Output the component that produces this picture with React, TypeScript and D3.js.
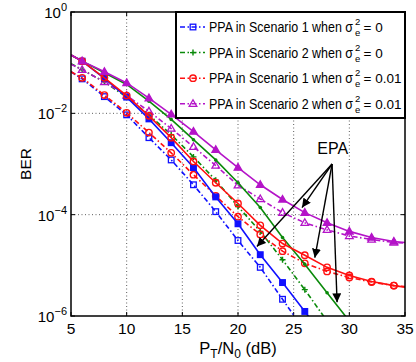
import { useEffect, useRef } from "react";
import * as d3 from "d3";

// SNR points (dB); markers are only drawn on the even ones
const snr = [5, 6, 8, 10, 12, 14, 16, 18, 20, 22, 24, 26, 28, 30, 32, 34, 35];

// log10(BER), null = below the axes
const ppaS1Zero = [-1.18, -1.32, -1.67, -2.03, -2.48, -2.92, -3.41, -3.94, -4.51, -5.04, -5.67, -6.3, null, null, null, null, null];
const ppaS2Zero = [-1.02, -1.14, -1.38, -1.68, -2.03, -2.42, -2.86, -3.32, -3.84, -4.33, -4.89, -5.48, -6.1, null, null, null, null];
const ppaS1Err = [-1.18, -1.3, -1.64, -1.99, -2.38, -2.78, -3.21, -3.63, -4.04, -4.39, -4.72, -4.96, -5.12, -5.24, -5.33, -5.4, -5.42];
const ppaS2Err = [-1.03, -1.14, -1.38, -1.65, -1.96, -2.3, -2.66, -3.03, -3.42, -3.69, -3.96, -4.16, -4.3, -4.42, -4.49, -4.55, -4.56];
const epaS1Zero = [-0.85, -0.97, -1.31, -1.68, -2.11, -2.58, -3.07, -3.65, -4.18, -4.79, -5.34, -5.91, -6.5, null, null, null, null];
const epaS2Zero = [-0.85, -0.97, -1.2, -1.43, -1.76, -2.12, -2.52, -2.92, -3.37, -3.86, -4.45, -4.98, -5.54, -6.1, null, null, null];
const epaS1Err = [-0.85, -0.97, -1.3, -1.65, -2.05, -2.48, -2.95, -3.37, -3.78, -4.21, -4.57, -4.8, -5.04, -5.2, -5.32, -5.4, -5.43];
const epaS2Err = [-0.85, -0.97, -1.18, -1.4, -1.7, -2.02, -2.36, -2.72, -3.07, -3.41, -3.7, -3.96, -4.16, -4.33, -4.45, -4.53, -4.55];

const legendLabels = [
  ["PPA in Scenario 1 when \u03c3", "= 0"],
  ["PPA in Scenario 2 when \u03c3", "= 0"],
  ["PPA in Scenario 1 when \u03c3", "= 0.01"],
  ["PPA in Scenario 2 when \u03c3", "= 0.01"],
];

const xTicks = [5, 10, 15, 20, 25, 30, 35];
const yTickExps = [0, -2, -4, -6];

// EPA annotation: label, arrow start, arrow tips (dB, log10 BER)
const epaLabel = { x: 28.5, y: -2.8 };
const epaFrom = { x: 28.45, y: -3.0 };
const epaTips = [
  { x: 21.7, y: -4.63 },
  { x: 25.75, y: -3.86 },
  { x: 26.9, y: -4.85 },
  { x: 28.9, y: -5.73 },
];

const BLUE = "#1010ff";
const GREEN = "#0a8a0a";
const RED = "#ff1010";
const MAG = "#b414c8";
const FONT = "Liberation Sans, Arial, sans-serif";

const series = [
  { vals: ppaS1Zero, color: BLUE, dash: "5,2.5,1.5,2.5", marker: "square", filled: false },
  { vals: ppaS2Zero, color: GREEN, dash: "5,2.5,1.5,2.5", marker: "plus", filled: false },
  { vals: ppaS1Err, color: RED, dash: "5,2.5,1.5,2.5", marker: "circle", filled: false },
  { vals: ppaS2Err, color: MAG, dash: "5,2.5,1.5,2.5", marker: "triangle", filled: false },
  { vals: epaS1Zero, color: BLUE, dash: null, marker: "square", filled: true },
  { vals: epaS2Zero, color: GREEN, dash: null, marker: "dot", filled: true },
  { vals: epaS1Err, color: RED, dash: null, marker: "circle", filled: false },
  { vals: epaS2Err, color: MAG, dash: null, marker: "triangle", filled: true },
];

const drawMarker = (g, type, x, y, color, filled) => {
  const fill = filled ? color : "none";
  if (type === "square") {
    g.append("rect").attr("x", x - 2.8).attr("y", y - 2.8).attr("width", 5.6).attr("height", 5.6)
      .attr("fill", fill).attr("stroke", color).attr("stroke-width", 1.3);
  } else if (type === "circle") {
    g.append("circle").attr("cx", x).attr("cy", y).attr("r", 3.2)
      .attr("fill", fill).attr("stroke", color).attr("stroke-width", 1.4);
  } else if (type === "triangle") {
    g.append("path").attr("d", `M${x},${y - 4}L${x + 3.8},${y + 2.6}L${x - 3.8},${y + 2.6}Z`)
      .attr("fill", fill).attr("stroke", color).attr("stroke-width", 1.3);
  } else if (type === "plus") {
    g.append("path").attr("d", `M${x - 3},${y}H${x + 3}M${x},${y - 3}V${y + 3}`)
      .attr("stroke", color).attr("stroke-width", 1.4);
  } else {
    g.append("circle").attr("cx", x).attr("cy", y).attr("r", 1.8).attr("fill", color);
  }
};

const App = () => {
  const ref = useRef(null);

  useEffect(() => {
    if (!ref.current) return;
    const svg = d3.select(ref.current);
    svg.selectAll("*").remove();

    const left = 71, right = 405, top = 12, bottom = 316;
    const x = d3.scaleLinear().domain([5, 35]).range([left, right]);
    const y = d3.scaleLinear().domain([-6, 0]).range([bottom, top]); // log10 axis

    svg.append("rect").attr("width", 416).attr("height", 362).attr("fill", "#fff");

    // grid
    const grid = svg.append("g").attr("stroke", "#333").attr("stroke-width", 0.8).attr("stroke-dasharray", "1,2.5");
    xTicks.slice(1, -1).forEach((t) => {
      grid.append("line").attr("x1", x(t)).attr("x2", x(t)).attr("y1", top).attr("y2", bottom);
    });
    yTickExps.slice(1, -1).forEach((t) => {
      grid.append("line").attr("x1", left).attr("x2", right).attr("y1", y(t)).attr("y2", y(t));
    });

    // ticks
    const ticks = svg.append("g").attr("stroke", "#000").attr("stroke-width", 1);
    xTicks.forEach((t) => {
      ticks.append("line").attr("x1", x(t)).attr("x2", x(t)).attr("y1", bottom).attr("y2", bottom - 4);
      ticks.append("line").attr("x1", x(t)).attr("x2", x(t)).attr("y1", top).attr("y2", top + 4);
    });
    yTickExps.forEach((t) => {
      ticks.append("line").attr("x1", left).attr("x2", left + 4).attr("y1", y(t)).attr("y2", y(t));
      ticks.append("line").attr("x1", right).attr("x2", right - 4).attr("y1", y(t)).attr("y2", y(t));
    });

    // curves
    svg.append("clipPath").attr("id", "plotclip").append("rect")
      .attr("x", left).attr("y", top).attr("width", right - left).attr("height", bottom - top);
    const plot = svg.append("g").attr("clip-path", "url(#plotclip)");

    series.forEach((s) => {
      const pts = snr.map((v, i) => [v, s.vals[i]]).filter((p) => p[1] !== null);
      const line = d3.line().x((d) => x(d[0])).y((d) => y(d[1]));
      plot.append("path").attr("d", line(pts)).attr("fill", "none")
        .attr("stroke", s.color).attr("stroke-width", 1.6)
        .attr("stroke-dasharray", s.dash);
      const mg = plot.append("g");
      pts.filter((p) => p[0] % 2 === 0 && p[1] >= -6.05).forEach((p) => {
        drawMarker(mg, s.marker, x(p[0]), y(p[1]), s.color, s.filled);
      });
    });

    // EPA annotation
    svg.append("defs").append("marker").attr("id", "arrowhead")
      .attr("viewBox", "0 0 10 10").attr("refX", 10).attr("refY", 5)
      .attr("markerWidth", 9).attr("markerHeight", 9).attr("markerUnits", "userSpaceOnUse")
      .attr("orient", "auto")
      .append("path").attr("d", "M0,0L10,5L0,10Z").attr("fill", "#000");
    epaTips.forEach((t) => {
      svg.append("line").attr("x1", x(epaFrom.x)).attr("y1", y(epaFrom.y))
        .attr("x2", x(t.x)).attr("y2", y(t.y))
        .attr("stroke", "#000").attr("stroke-width", 1.4).attr("marker-end", "url(#arrowhead)");
    });
    svg.append("text").attr("x", x(epaLabel.x)).attr("y", y(epaLabel.y))
      .attr("text-anchor", "middle").style("font-family", FONT).style("font-size", "16px")
      .text("EPA");

    // frame
    svg.append("rect").attr("x", left).attr("y", top).attr("width", right - left).attr("height", bottom - top)
      .attr("fill", "none").attr("stroke", "#000").attr("stroke-width", 1.5);

    // x tick labels
    xTicks.forEach((t) => {
      svg.append("text").attr("x", x(t)).attr("y", bottom + 18).attr("text-anchor", "middle")
        .style("font-family", FONT).style("font-size", "15.5px").text(t);
    });

    // y tick labels 10^k
    yTickExps.forEach((t) => {
      const tx = svg.append("text").attr("x", left - 4).attr("y", y(t) + 6).attr("text-anchor", "end")
        .style("font-family", FONT).style("font-size", "15px");
      tx.append("tspan").text("10");
      tx.append("tspan").attr("dy", -7).style("font-size", "11px").text(t === 0 ? "0" : "\u2212" + Math.abs(t));
    });

    // axis titles
    svg.append("text").attr("transform", `translate(31,${(top + bottom) / 2}) rotate(-90)`)
      .attr("text-anchor", "middle").style("font-family", FONT).style("font-size", "15.5px").text("BER");
    const xt = svg.append("text").attr("x", x(20)).attr("y", 354).attr("text-anchor", "middle")
      .style("font-family", FONT).style("font-size", "16.5px");
    xt.append("tspan").text("P");
    xt.append("tspan").attr("dy", 4).style("font-size", "12px").text("T");
    xt.append("tspan").attr("dy", -4).text("/N");
    xt.append("tspan").attr("dy", 4).style("font-size", "12px").text("0");
    xt.append("tspan").attr("dy", -4).text(" (dB)");

    // legend
    const lx = 176, ly = top, lw = right - lx, lh = 106;
    svg.append("rect").attr("x", lx).attr("y", ly).attr("width", lw).attr("height", lh)
      .attr("fill", "#fff").attr("stroke", "#000").attr("stroke-width", 2);
    legendLabels.forEach((lab, i) => {
      const s = series[i];
      const cy = ly + 15 + i * 25.6;
      const lg = svg.append("g");
      lg.append("line").attr("x1", lx + 4).attr("x2", lx + 29).attr("y1", cy).attr("y2", cy)
        .attr("stroke", s.color).attr("stroke-width", 1.5).attr("stroke-dasharray", s.dash);
      drawMarker(lg, s.marker, lx + 17, cy, s.color, false);
      lg.append("text").attr("x", lx + 33).attr("y", cy + 5)
        .attr("textLength", 144).attr("lengthAdjust", "spacingAndGlyphs")
        .style("font-family", FONT).style("font-size", "14px").text(lab[0]);
      const sx = lx + 33 + 146;
      lg.append("text").attr("x", sx).attr("y", cy - 2).style("font-family", FONT).style("font-size", "9.5px").text("2");
      lg.append("text").attr("x", sx).attr("y", cy + 9).style("font-family", FONT).style("font-size", "9.5px").text("e");
      lg.append("text").attr("x", sx + 8.5).attr("y", cy + 5)
        .style("font-family", FONT).style("font-size", "13.5px").text(lab[1]);
    });
  }, []);

  return (
    <svg ref={ref} width={416} height={362} style={{ display: "block", position: "absolute", left: 0, top: 0 }} />
  );
};

export default App;
